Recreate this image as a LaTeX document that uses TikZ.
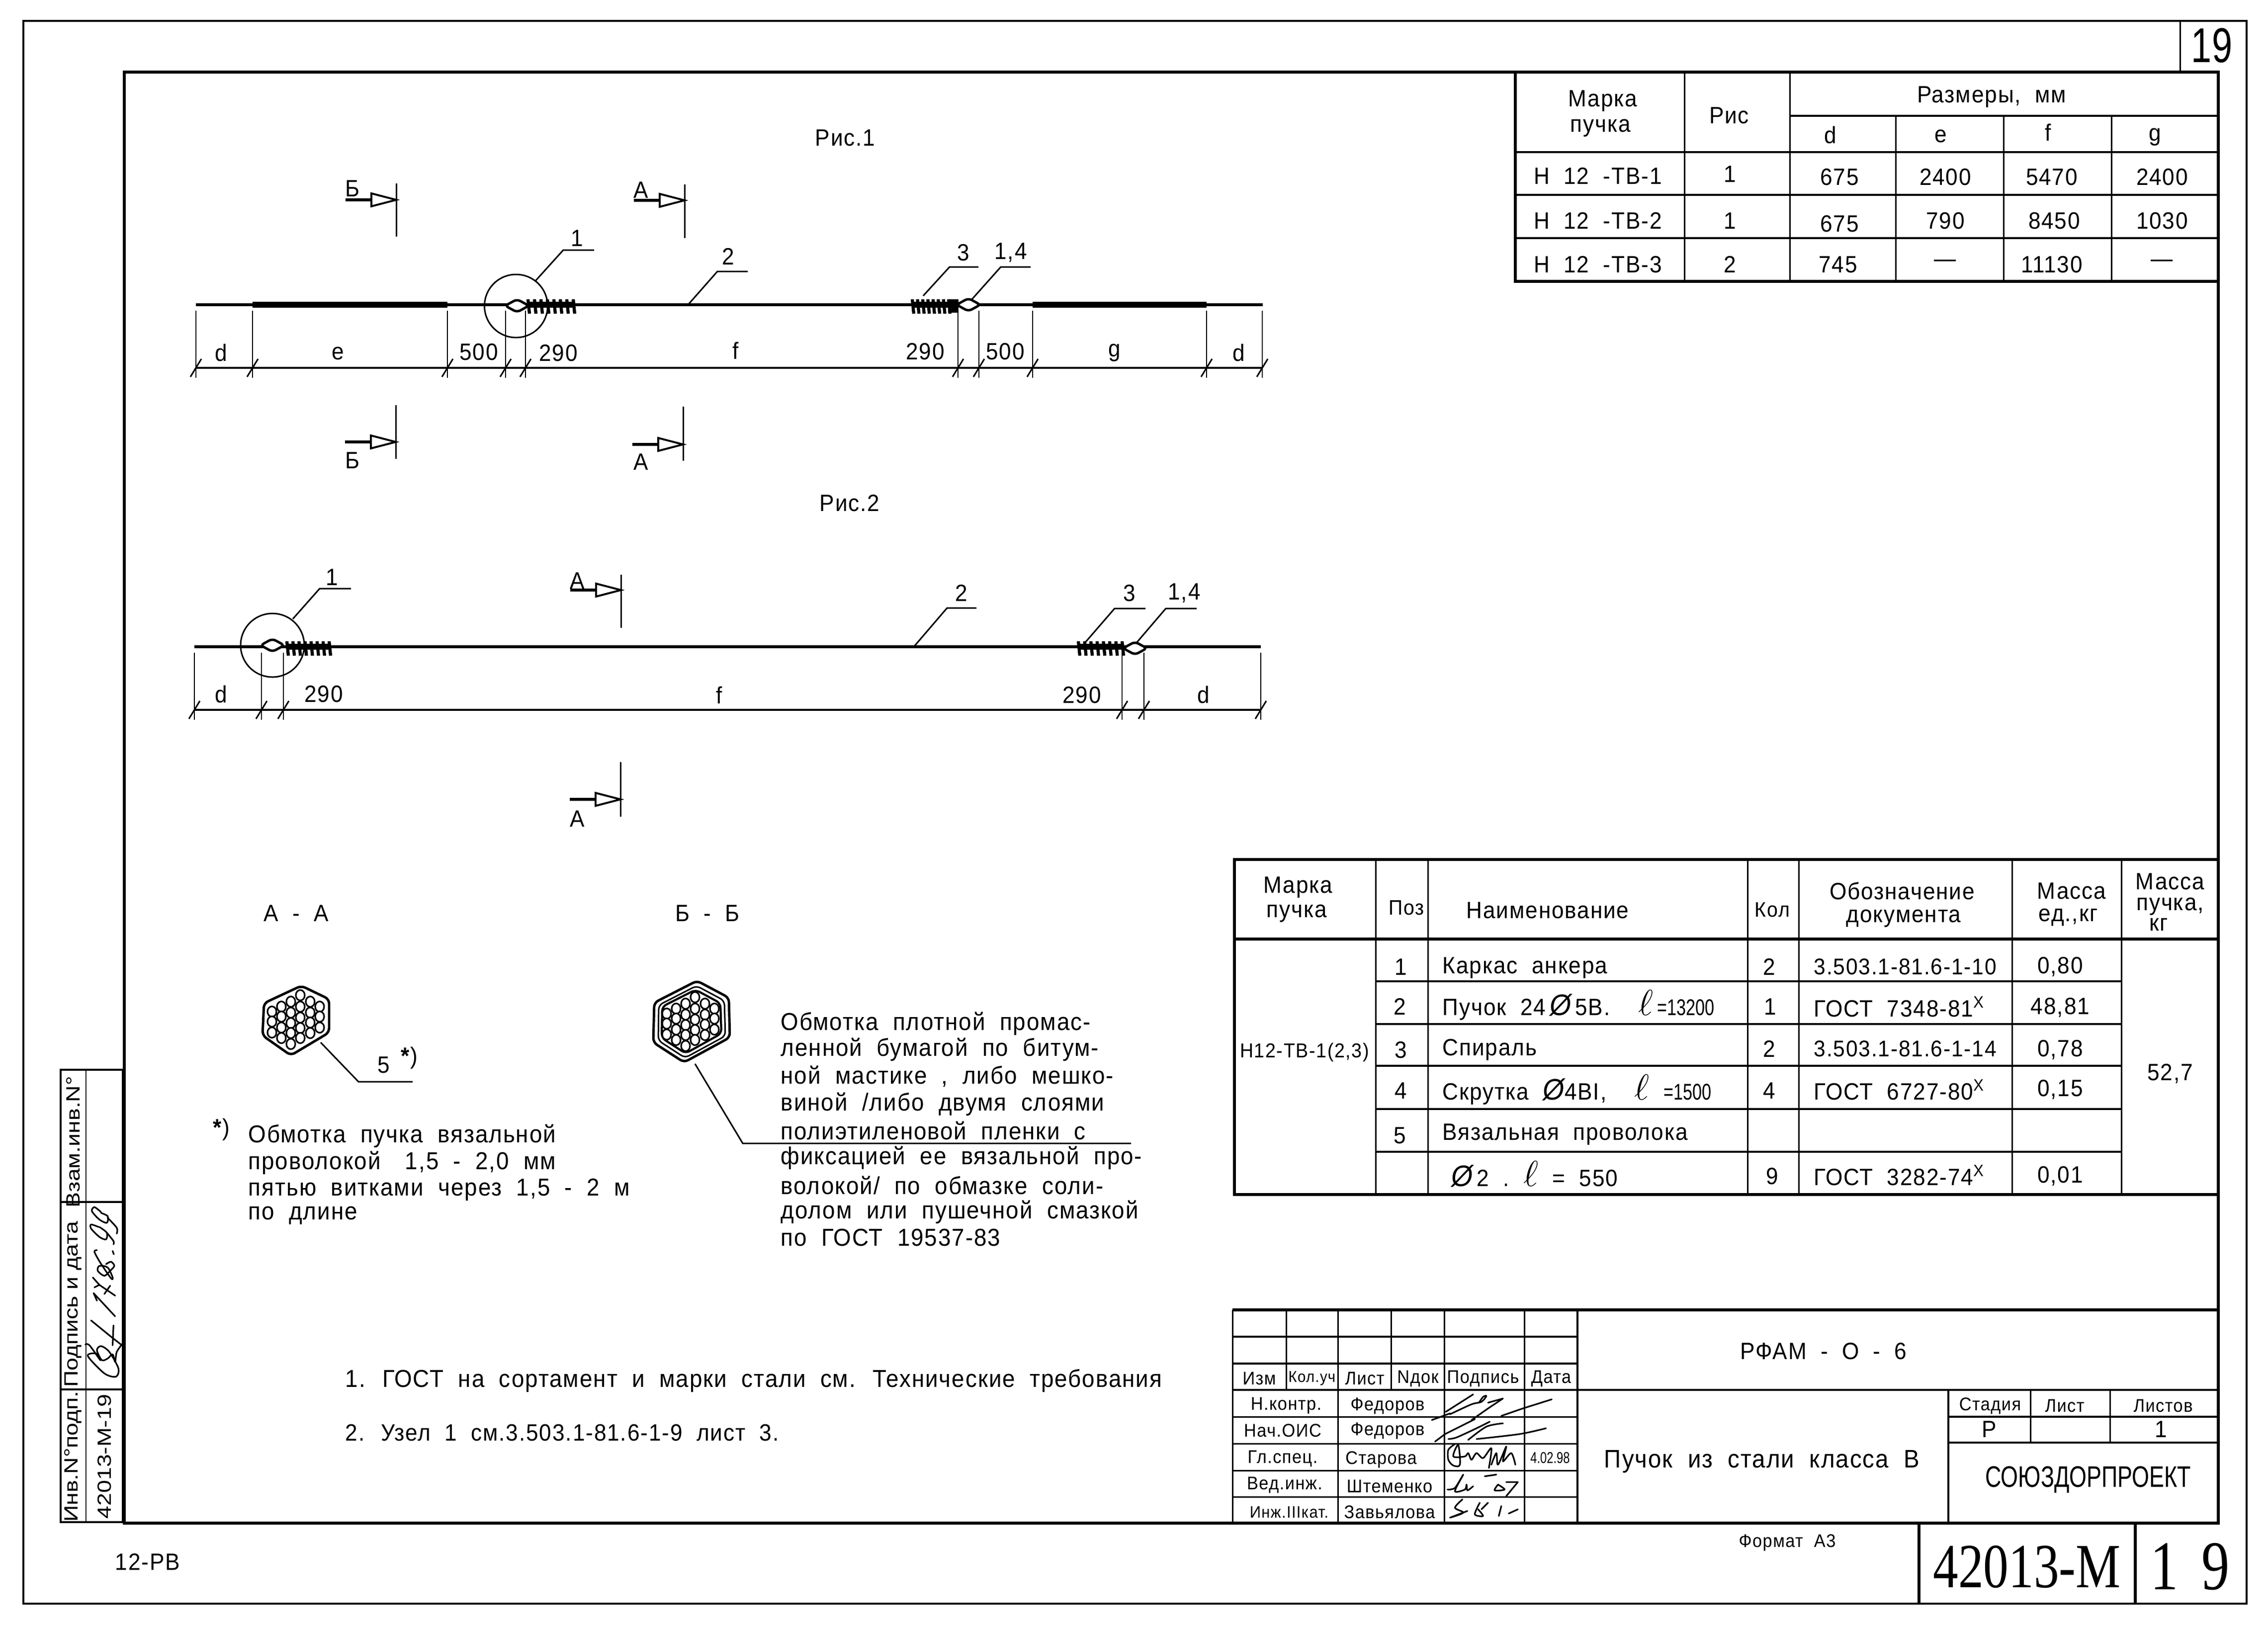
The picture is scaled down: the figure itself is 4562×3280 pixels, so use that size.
\documentclass[tikz,border=0pt]{standalone}
\usepackage{fontspec}
\setmainfont[LetterSpace=4, WordSpace=2, FakeStretch=0.93]{Liberation Sans}
\newfontfamily\widefont[FakeStretch=1.2]{Liberation Sans}
\newfontfamily\narrowfont[FakeStretch=0.75]{Liberation Sans}
\newfontfamily\stampserif[FakeStretch=0.8]{Liberation Serif}
\newcommand{\cellsize}{\fontsize{10.5}{10.5}\selectfont}
\newcommand{\numsize}{\fontsize{13}{13}\selectfont\narrowfont}
\newcommand{\dia}{{\fontsize{17}{17}\selectfont\itshape Ø}}
\newcommand{\bigell}{{\fontsize{20}{20}\selectfont$\ell$}}
\tikzset{
    every node/.style={inner sep=0pt, font=\fontsize{13.5}{13.5}\selectfont},
    outerline/.style={line width=1.1pt},
    frameline/.style={line width=1.5pt},
    rowline/.style={line width=1.2pt},
    thinline/.style={line width=0.85pt},
    wire/.style={line width=1.6pt},
    wirethick/.style={line width=3.2pt},
    extline/.style={line width=0.7pt},
    signline/.style={line width=0.9pt, line join=round, line cap=round},
    cell/.style={font=\cellsize},
    notetext/.style={anchor=west, font=\fontsize{14}{14}\selectfont},
    rotcell/.style={rotate=90, font=\fontsize{11}{11}\selectfont\widefont},
}
% Coil of wire between two x values
\newcommand{\coil}[3]{
    \draw [wirethick] (#1,#3) -- (#2,#3);
    \foreach \k in {0,...,7} {
        \draw [line width=1.8pt] ({#1+\k*(#2-#1)/7},#3-11) -- ({#1+\k*(#2-#1)/7+3},#3+18);
    }
}
% Twist knot
\newcommand{\knot}[2]{
    \draw [line width=1.4pt, fill=white, rounded corners=2pt] (#1-24,#2) -- (#1,#2-13) -- (#1+24,#2) -- (#1,#2+13) -- cycle;
}
% Section mark: x, top, bottom, arrow y
\newcommand{\sectmark}[4]{
    \draw [thinline] (#1,#2) -- (#1,#3);
    \draw [wire] (#1-102,#4) -- (#1-50,#4);
    \draw [line width=1.1pt, fill=white] (#1-50,#4-13) -- (#1,#4) -- (#1-50,#4+13) -- cycle;
}
% Dimension line with extension lines and ticks
\newcommand{\dimrow}[4]{
    \draw [line width=1.2pt] (#1,#3) -- (#2,#3);
    \foreach \x in {#4} {
        \draw [extline] (\x,#3-115) -- (\x,#3+20);
        \draw [thinline] ({\x-11},#3+18) -- ({\x+11},#3-18);
    }
}
% The 24 strands of the bundle
\newcommand{\strands}{
    \foreach \xx/\ylist in {547/{2035,2055,2077}, 566/{2025,2045,2067,2088},
        585/{2015,2037,2058,2078,2100}, 604/{2002,2025,2047,2068,2088},
        624/{2015,2037,2057,2078}, 643/{2025,2045,2067}} {
        \foreach \yy in \ylist {
            \draw [line width=0.9pt, fill=white] (\xx,\yy) ellipse [x radius=9, y radius=10.5];
        }
    }
}

\begin{document}
\begin{tikzpicture}[x=0.01cm, y=-0.01cm]
    \useasboundingbox (0,0) rectangle (4562,3280);
    % Sheet frames
    \draw [outerline] (47,42) rectangle (4519,3226);
    \draw [frameline] (250,145) rectangle (4462,3064);
    \draw [thinline] (4385,42) -- (4385,145);
    \draw [frameline] (3860,3064) -- (3860,3226);
    \draw [frameline] (4295,3064) -- (4295,3226);
    \node (sheetnr) at (4449,92) {\fontsize{28}{28}\selectfont\narrowfont 19};
    \node (code) at (297,3142) {12-РВ};
    \node (format) at (3595,3103) {\cellsize Формат А3};
    \node (stampnr) at (4077,3152) {\fontsize{36}{36}\selectfont\stampserif 42013-М};
    \node (stamppage) at (4405,3152) {\fontsize{40}{40}\selectfont\stampserif 1\,\,9};

    % Figure 1
    \node (ris1) at (1700,277) {Рис.1};
    \draw [wire] (394,613) -- (2540,613);
    \draw [wirethick] (508,613) -- (900,613);
    \draw [wirethick] (2077,613) -- (2427,613);
    \coil{1062}{1153}{613}
    \coil{1835}{1908}{613}
    \draw [fill] (1908,603) rectangle (1927,628);
    \knot{1040}{615}
    \knot{1948}{613}
    \draw [thinline] (1038,615.5) circle [radius=63.5];
    \dimrow{394}{2540}{740}{394,508,900,1017,1057,1927,1969,2077,2427,2539}
    % Leaders
    \draw [thinline] (1077,565) -- (1133,503) -- (1195,503);
    \draw [thinline] (1384,613) -- (1443,546) -- (1504,546);
    \draw [thinline] (1857,595) -- (1910,537) -- (1968,537);
    \draw [thinline] (1955,602) -- (2013,537) -- (2073,537);
    \foreach \nm/\xx/\yy/\tx in {f1a/1161/479/1, f1b/1465/516/2, f1c/1938/508/3, f1d/2033/508/{1,4},
        f1e/445/710/d, f1f/680/711/e, f1g/963/708/500, f1h/1123/710/290, f1i/1480/705/f,
        f1j/1861/707/290, f1k/2022/707/500, f1l/2242/710/g, f1m/2492/710/d} {
        \node (\nm) at (\xx,\yy) {\tx};
    }
    % Section marks
    \sectmark{797}{369}{476}{402}
    \sectmark{1377}{371}{479}{403}
    \sectmark{796}{815}{923}{889}
    \sectmark{1374}{818}{927}{894}
    \node (sb1) at (709,379) {Б};
    \node (sa1) at (1289,382) {А};
    \node (sb2) at (709,926) {Б};
    \node (sa2) at (1289,929) {А};

    % Figure 2
    \node (ris2) at (1709,1012) {Рис.2};
    \draw [wire] (391,1301) -- (2536,1301);
    \coil{577}{662}{1301}
    \coil{2169}{2257}{1301}
    \knot{548}{1298}
    \knot{2283}{1304}
    \draw [thinline] (548,1298) circle [radius=64];
    \dimrow{391}{2536}{1428}{391,526,570,2257,2301,2536}
    \draw [thinline] (589,1245) -- (643,1184) -- (706,1184);
    \draw [thinline] (1839,1300) -- (1905,1223) -- (1964,1223);
    \draw [thinline] (2184,1291) -- (2242,1224) -- (2304,1224);
    \draw [thinline] (2286,1293) -- (2345,1224) -- (2407,1224);
    \foreach \nm/\xx/\yy/\tx in {f2a/668/1161/1, f2b/1934/1193/2, f2c/2272/1193/3, f2d/2382/1193/{1,4},
        f2e/445/1396/d, f2f/651/1396/290, f2g/1447/1398/f, f2h/2176/1398/290, f2i/2421/1398/d} {
        \node (\nm) at (\xx,\yy) {\tx};
    }
    \sectmark{1249}{1156}{1263}{1187}
    \sectmark{1248}{1533}{1643}{1608}
    \node (sa3) at (1161,1168) {А};
    \node (sa4) at (1161,1647) {А};

    % Section A-A
    \node (secaa) at (596,1837) {А - А};
    \draw [line width=1.4pt, rounded corners=2.5pt] (606,1983) -- (662,2010) -- (662,2077) -- (585,2123) -- (528,2083) -- (531,2018) -- cycle;
    \strands
    \draw [thinline] (645,2097) -- (721,2176) -- (830,2176);
    \node (pos5) at (772,2142) {5};
    \node (star5) at (823,2128) {\textbf{*})};

    % Section B-B
    \node (secbb) at (1423,1837) {Б - Б};
    \draw [line width=1.4pt, rounded corners=2.5pt] (1402,1973) -- (1466,2007) -- (1468,2087) -- (1376,2137) -- (1314,2097) -- (1316,2017) -- cycle;
    \draw [thinline, rounded corners=2.5pt] (1401,1983) -- (1457,2013) -- (1459,2084) -- (1378,2128) -- (1324,2093) -- (1325,2022) -- cycle;
    \draw [line width=1.2pt, rounded corners=2.5pt] (1399,1991) -- (1449,2018) -- (1451,2079) -- (1379,2119) -- (1331,2088) -- (1332,2025) -- cycle;
    \begin{scope}[shift={(794,4)}]
        \strands
    \end{scope}
    \draw [thinline] (1398,2140) -- (1494,2300) -- (2275,2300);
    % Wrapping note
    \foreach \nm/\yy/\tx in {wr1/2059/Обмотка плотной промас-, wr2/2111/ленной бумагой по битум-,
        wr3/2165/{ной мастике , либо мешко-}, wr4/2221/{виной /либо двумя слоями},
        wr5/2274/полиэтиленовой пленки с, wr6/2329/фиксацией ее вязальной про-,
        wr7/2384/{волокой/ по обмазке соли-}, wr8/2438/долом или пушечной смазкой,
        wr9/2490/по ГОСТ 19537-83} {
        \node (\nm) [notetext] at (1570,\yy) {\tx};
    }
    % Footnote
    \node (fnstar) at (445,2272) {\textbf{*})};
    \foreach \nm/\yy/\tx in {fn1/2285/Обмотка пучка вязальной, fn2/2339/{проволокой\quad 1,5 - 2,0 мм},
        fn3/2393/{пятью витками через 1,5 - 2 м}, fn4/2445/по длине} {
        \node (\nm) [notetext] at (499,\yy) {\tx};
    }
    % Notes
    \node (note1) [notetext] at (694,2778) {1. ГОСТ на сортамент и марки стали см. Технические требования};
    \node (note2) [anchor=west] at (694,2882) {2. Узел 1 см.3.503.1-81.6-1-9 лист 3.};

    % Left stamp
    \draw [rowline] (122,2152) rectangle (247,3062);
    \draw [thinline] (173,2152) -- (173,3062);
    \draw [rowline] (122,2418) -- (247,2418);
    \draw [rowline] (122,2795) -- (247,2795);
    \node (vz) [rotcell] at (147,2297) {Взам.инв.N°};
    \node (pd) [rotcell] at (147,2624) {Подпись и дата};
    \node (in) [rotcell] at (147,2930) {Инв.N°подп.};
    \node (nr) [rotcell] at (210,2930) {42013-М-19};
    % Handwriting on the stamp
    \begin{scope}[shift={(160,2400)}, x=0.00333cm, y=-0.00333cm]
        \draw [signline] plot [smooth] coordinates {(130,115) (90,85) (75,110) (120,160) (165,180) (170,140) (130,120)};
        \draw [signline] plot [smooth] coordinates {(170,150) (225,210) (225,245)};
        \draw [signline] plot [smooth] coordinates {(115,205) (70,190) (70,215) (120,265) (160,280) (165,240) (120,205)};
        \draw [signline] plot [smooth] coordinates {(165,240) (205,290) (205,310)};
        \draw [signline] (200,350) -- (207,370);
        \draw [signline] plot [smooth] coordinates {(105,345) (90,355) (125,420) (190,515) (200,510) (170,450) (120,440) (110,470) (150,500) (185,470) (210,440) (190,415) (160,430)};
        \draw [signline] (80,510) -- (120,555) -- (90,570);
        \draw [signline] (120,555) -- (215,620);
        \draw [signline] (150,610) -- (185,560);
        \draw [signline] (105,650) -- (85,605) -- (215,745);
        \draw [signline] (70,770) -- (180,860) -- (250,915);
        \draw [signline] (205,800) -- (200,920);
        \draw [signline] plot [smooth] coordinates {(35,915) (60,920) (125,1010) (100,970) (50,985) (150,1090) (220,1110) (235,1060) (180,960) (130,925) (105,950) (135,1010) (170,1000) (200,975) (215,1020) (225,960) (260,910)};
    \end{scope}

    % Table of sizes
    \draw [frameline] (3048,145) -- (3048,566) -- (4462,566);
    \foreach \y in {306,392,479} {
        \draw [rowline] (3048,\y) -- (4462,\y);
    }
    \draw [rowline] (3600,233) -- (4462,233);
    \foreach \x in {3388,3600} {
        \draw [thinline] (\x,145) -- (\x,566);
    }
    \foreach \x in {3813,4030,4247} {
        \draw [thinline] (\x,233) -- (\x,566);
    }
    \foreach \nm/\xx/\yy/\tx in {t1a/3224/203/Марка, t1b/3219/258/пучка, t1c/3478/232/Рис, t1d/4006/195/{Размеры, мм},
        t1e/3682/272/d, t1f/3904/274/e, t1g/4120/266/f, t1h/4335/276/g,
        r1a/3214/354/Н\ 12 -ТВ-1, r1b/3480/350/1, r1c/3700/356/675, r1d/3913/356/2400, r1e/4127/356/5470, r1f/4349/356/2400,
        r2a/3214/444/Н\ 12 -ТВ-2, r2b/3480/444/1, r2c/3700/450/675, r2d/3913/444/790, r2e/4132/444/8450, r2f/4349/444/1030,
        r3a/3214/532/Н\ 12 -ТВ-3, r3b/3480/532/2, r3c/3697/532/745, r3d/3913/530/---, r3e/4127/532/11130, r3f/4349/530/---} {
        \node (\nm) at (\xx,\yy) {\tx};
    }

    % Specification table
    \draw [frameline] (2483,1729) rectangle (4462,2403);
    \draw [frameline] (2483,1889) -- (4462,1889);
    \foreach \y in {1974,2060,2144,2231,2317} {
        \draw [rowline] (2767,\y) -- (4267,\y);
    }
    \foreach \x in {2767,2872,3515,3618,4047,4267} {
        \draw [thinline] (\x,1729) -- (\x,2403);
    }
    \foreach \nm/\xx/\yy/\tx in {h1/2611/1785/Марка, h2/2608/1838/пучка, h3/2829/1826/{\fontsize{12}{12}\selectfont Поз}, h4/3113/1831/Наименование,
        h5/3565/1830/{\fontsize{12}{12}\selectfont Кол}, h6/3826/1792/Обозначение, h7/3829/1848/документа, h8/4167/1792/Масса, h9/4160/1845/{ед.,кг},
        h10/4365/1773/Масса, h11/4365/1824/{пучка,}, h12/4342/1860/кг,
        m0/2624/2117/{\fontsize{11.5}{11.5}\selectfont Н12-ТВ-1(2,3)}, m1/4365/2160/{52,7},
        p1/2818/1945/1, p2/2816/2025/2, p3/2818/2112/3, p4/2818/2194/4, p5/2816/2284/5,
        k1/3559/1945/2, k2/3561/2025/1, k3/3559/2110/2, k4/3559/2194/4, k5/3565/2366/9,
        w1/4144/1945/{0,80}, w2/4144/2027/{48,81}, w3/4144/2112/{0,78}, w4/4144/2192/{0,15}, w5/4144/2366/{0,01}} {
        \node (\nm) at (\xx,\yy) {\tx};
    }
    \foreach \nm/\xx/\yy/\tx in {n1/2901/1947/Каркас анкера, n2/2901/2022/{Пучок 24\,\dia\,5В.\ \ \bigell\,{\numsize =13200}},
        n3/2901/2112/Спираль, n4/2901/2192/{Скрутка \dia4ВI,\ \ \bigell\ {\numsize =1500}},
        n5/2901/2282/Вязальная проволока, n6/2919/2362/{\dia\,2 .\ \bigell\ = 550},
        d1/3648/1945/{\fontsize{13}{13}\selectfont 3.503.1-81.6-1-10}, d2/3648/2025/ГОСТ 7348-81\textsuperscript{X},
        d3/3648/2110/{\fontsize{13}{13}\selectfont 3.503.1-81.6-1-14}, d4/3648/2192/ГОСТ 6727-80\textsuperscript{X},
        d5/3648/2364/ГОСТ 3282-74\textsuperscript{X}} {
        \node (\nm) [anchor=west] at (\xx,\yy) {\tx};
    }

    % Title block
    \draw [frameline] (2479,2635) -- (4462,2635);
    \draw [thinline] (2479,2635) -- (2479,3064);
    \foreach \y in {2689,2743,2796} {
        \draw [rowline] (2479,\y) -- (3173,\y);
    }
    \foreach \y in {2850,2904,2958,3011} {
        \draw [thinline] (2479,\y) -- (3173,\y);
    }
    \foreach \x in {2587,2798} {
        \draw [thinline] (\x,2635) -- (\x,2796);
    }
    \foreach \x in {2691,2905,3066} {
        \draw [thinline] (\x,2635) -- (\x,3064);
    }
    \draw [rowline] (3173,2635) -- (3173,3064);
    \draw [rowline] (3173,2796) -- (4462,2796);
    \draw [rowline] (3919,2796) -- (3919,3064);
    \draw [rowline] (3919,2850) -- (4462,2850);
    \draw [rowline] (3919,2902) -- (4462,2902);
    \foreach \x in {4084,4244} {
        \draw [thinline] (\x,2796) -- (\x,2902);
    }
    \foreach \nm/\xx/\yy/\tx in {b1/2533/2773/Изм, b2/2639/2773/{\fontsize{9}{9}\selectfont Кол.уч}, b3/2745/2773/Лист, b4/2852/2773/Nдок, b5/2983/2773/Подпись, b6/3120/2773/Дата,
        c1/2587/2828/Н.контр., c2/2791/2828/Федоров, c3/2580/2878/Нач.ОИС, c4/2791/2878/Федоров,
        c5/2580/2934/Гл.спец., c6/2778/2936/Старова, c7/2584/2987/Вед.инж., c8/2795/2990/Штеменко,
        c9/2593/3042/{\fontsize{9.5}{9.5}\selectfont Инж.IIIкат.}, c10/2795/3042/Завьялова,
        c11/3118/2933/{\fontsize{9}{9}\selectfont\narrowfont 4.02.98},
        e1/4003/2828/Стадия, e2/4153/2828/Лист, e3/4351/2828/Листов} {
        \node (\nm) [cell] at (\xx,\yy) {\tx};
    }
    \node (e4) at (4001,2875) {Р};
    \node (e5) at (4347,2875) {1};
    \node (blocktitle) at (3668,2718) {РФАМ - О - 6};
    \node (blockname) [font=\fontsize{14.5}{14.5}\selectfont] at (3544,2940) {Пучок из стали класса В};
    \node (blockorg) at (4200,2977) {\fontsize{17}{17}\selectfont\narrowfont СОЮЗДОРПРОЕКТ};
    % Signatures
    \begin{scope}[shift={(2880,2790)}, x=0.00333cm, y=-0.00333cm]
        \draw [signline] (85,150) -- (250,45);
        \draw [signline] plot [smooth] coordinates {(110,165) (240,105) (300,90) (330,55) (310,60) (285,95)};
        \draw [signline] (340,95) -- (430,70) -- (340,130) -- (240,200);
        \draw [signline] (0,200) -- (110,160);
        \draw [signline] (420,175) -- (550,130) -- (725,75);
        \draw [signline] (20,330) -- (80,285) -- (260,195);
        \draw [signline] plot [smooth] coordinates {(100,315) (150,305) (270,250) (350,210)};
        \draw [signline] plot [smooth] coordinates {(220,320) (330,240) (430,220)};
        \draw [signline] plot [smooth] coordinates {(270,315) (530,285) (690,250)};
        \draw [signline] plot [smooth] coordinates {(140,345) (100,380) (100,440) (130,475) (170,470) (160,350) (130,420) (200,420) (220,400) (240,440) (270,400) (310,430) (360,370) (345,490)};
        \draw [signline] plot [smooth] coordinates {(360,470) (390,400) (400,470) (450,360) (430,450) (480,400) (505,470)};
        \draw [signline] plot [smooth] coordinates {(95,620) (140,610) (190,530) (140,630) (200,620) (210,590) (215,625) (250,600)};
        \draw [signline] (320,540) -- (390,530);
        \draw [signline] plot [smooth] coordinates {(400,590) (440,620) (380,625) (400,590)};
        \draw [signline] (450,575) -- (520,575) -- (450,660);
        \draw [signline] plot [smooth] coordinates {(185,680) (140,730) (190,760) (110,790) (215,750)};
        \draw [signline] plot [smooth] coordinates {(290,700) (260,770) (310,780) (280,740)};
        \draw [signline] (340,700) -- (300,740);
        \draw [signline] (420,720) -- (405,780);
        \draw [signline] (465,765) -- (520,740);
    \end{scope}
\end{tikzpicture}
\end{document}
